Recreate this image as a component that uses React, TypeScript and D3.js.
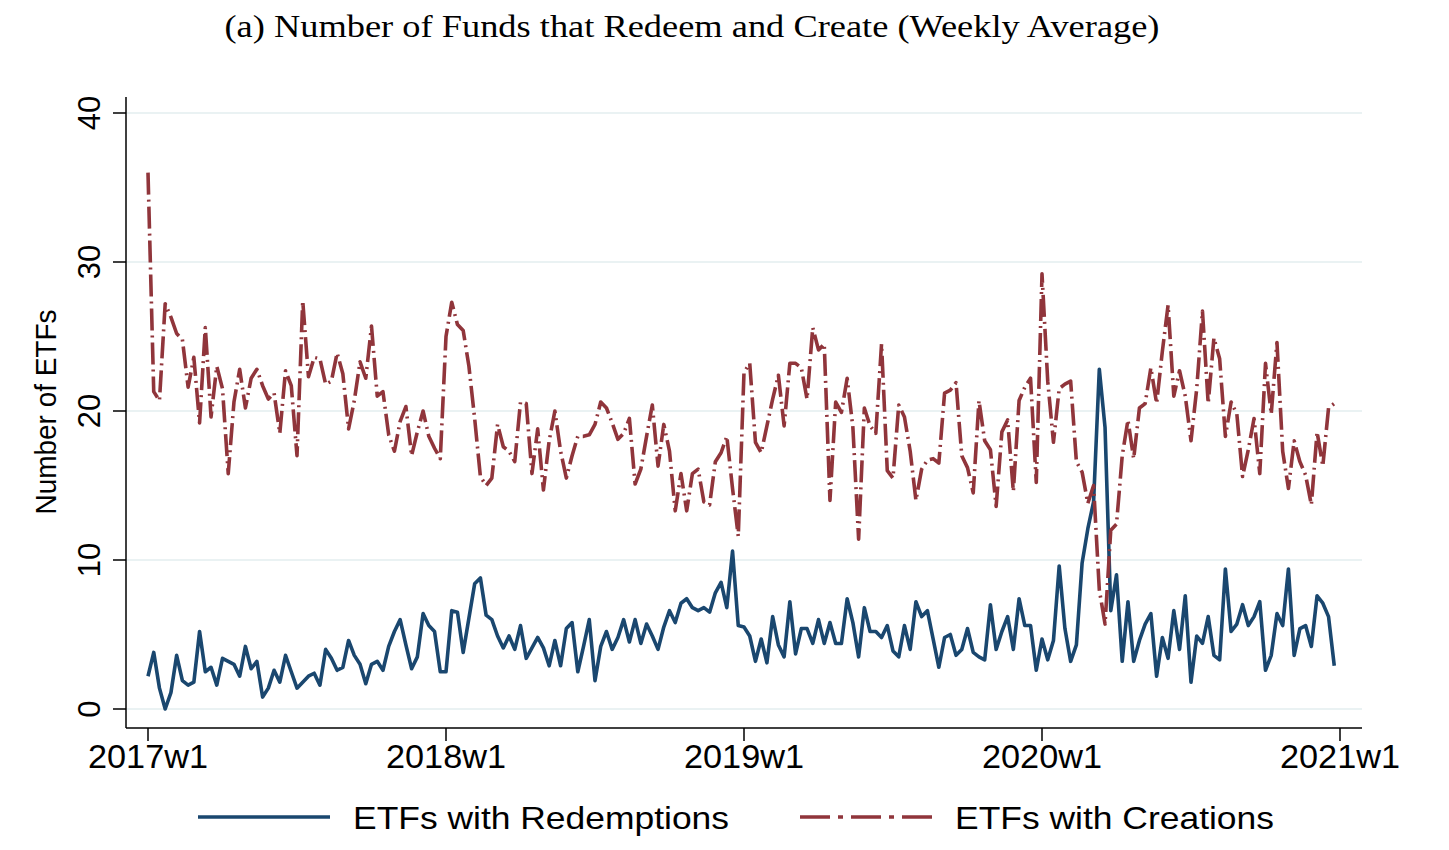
import * as d3 from "d3";

// weekly index 0 = 2017w1
const tickWeeks = [0, 52, 104, 156, 208];
const tickLabels = ["2017w1", "2018w1", "2019w1", "2020w1", "2021w1"];
const yTicks = [0, 10, 20, 30, 40];

const seriesNames = ["ETFs with Redemptions", "ETFs with Creations"];

const redemptions = [
  2.2, 3.8, 1.4, 0, 1.1, 3.6, 1.9, 1.6, 1.8, 5.2, 2.5, 2.8, 1.6, 3.4, 3.2, 3.0, 2.2, 4.2, 2.7, 3.2,
  0.8, 1.4, 2.6, 1.8, 3.6, 2.5, 1.4, 1.8, 2.2, 2.4, 1.6, 4.0, 3.4, 2.6, 2.8, 4.6, 3.6, 3.0, 1.7, 3.0,
  3.2, 2.6, 4.2, 5.2, 6.0, 4.3, 2.7, 3.5, 6.4, 5.6, 5.2, 2.5, 2.5, 6.6, 6.5, 3.8, 6.1, 8.4, 8.8, 6.3,
  6.0, 4.9, 4.1, 4.9, 4.0, 5.6, 3.4, 4.1, 4.8, 4.1, 2.9, 4.6, 2.9, 5.4, 5.8, 2.5, 4.2, 6.0, 1.9, 4.2,
  5.2, 4.0, 4.8, 6.0, 4.5, 6.0, 4.4, 5.7, 4.9, 4.0, 5.5, 6.6, 5.8, 7.1, 7.4, 6.8, 6.6, 6.8, 6.5, 7.8,
  8.5, 6.8, 10.6, 5.6, 5.5, 4.9, 3.2, 4.7, 3.1, 6.2, 4.3, 3.5, 7.2, 3.7, 5.4, 5.4, 4.4, 6.0, 4.4, 5.8,
  4.4, 4.4, 7.4, 5.8, 3.5, 6.8, 5.2, 5.2, 4.8, 5.6, 3.9, 3.5, 5.6, 4.0, 7.2, 6.2, 6.6, 4.7, 2.8, 4.8,
  5.0, 3.6, 4.0, 5.4, 3.8, 3.5, 3.3, 7.0, 4.0, 5.2, 6.2, 4.0, 7.4, 5.6, 5.6, 2.6, 4.7, 3.3, 4.6, 9.6,
  5.4, 3.2, 4.3, 9.8, 12.1, 13.9, 22.8, 18.9, 6.6, 9.0, 3.2, 7.2, 3.2, 4.6, 5.7, 6.4, 2.2, 4.8, 3.4, 6.6,
  4.0, 7.6, 1.8, 4.9, 4.4, 6.2, 3.6, 3.3, 9.4, 5.2, 5.7, 7.0, 5.6, 6.2, 7.2, 2.6, 3.6, 6.4, 5.6, 9.4,
  3.6, 5.4, 5.6, 4.2, 7.6, 7.1, 6.2, 2.9,
];

const creations = [
  36.0, 21.3, 20.7, 27.2, 26.3, 25.2, 24.8, 21.6, 23.6, 19.2, 25.6, 19.6, 23.0, 21.5, 15.8, 20.6, 22.8, 20.2, 22.2, 22.8,
  21.7, 20.8, 21.2, 18.5, 22.7, 21.7, 17.0, 27.4, 22.3, 23.6, 23.5, 21.8, 22.0, 23.9, 22.5, 18.8, 20.7, 23.3, 22.2, 25.7,
  21.0, 21.3, 18.4, 17.3, 19.3, 20.3, 17.0, 18.6, 20.0, 18.3, 17.5, 16.8, 25.0, 27.3, 25.8, 25.4, 23.0, 19.5, 15.6, 15.0,
  15.5, 19.1, 17.6, 17.3, 16.6, 20.6, 20.5, 15.8, 18.8, 14.7, 18.0, 20.0, 17.3, 15.5, 17.0, 18.3, 18.3, 18.4, 19.1, 20.6,
  20.2, 19.2, 18.1, 18.5, 19.5, 15.1, 16.1, 18.3, 20.4, 16.3, 19.1, 17.3, 13.3, 15.8, 13.3, 15.8, 16.1, 13.9, 13.7, 16.6,
  17.2, 18.3, 14.8, 11.6, 22.6, 23.2, 17.9, 17.2, 19.0, 20.8, 22.4, 19.0, 23.2, 23.2, 22.9, 20.8, 25.6, 24.1, 24.5, 14.0,
  20.6, 19.9, 22.2, 18.9, 11.4, 20.2, 19.0, 18.5, 24.5, 16.0, 15.5, 20.4, 19.6, 17.3, 14.0, 16.1, 16.7, 16.8, 16.5, 21.2,
  21.4, 21.9, 17.0, 16.2, 14.5, 20.7, 18.0, 17.4, 13.6, 18.6, 19.4, 14.6, 20.7, 21.6, 22.2, 15.2, 29.2, 22.0, 17.9, 21.5,
  21.8, 22.0, 16.6, 15.9, 13.8, 15.0, 8.0, 5.7, 12.0, 12.4, 17.0, 19.4, 16.8, 20.2, 20.5, 22.9, 20.5, 24.0, 27.1, 21.0,
  22.7, 21.0, 18.0, 21.5, 26.7, 20.5, 24.9, 23.5, 18.3, 20.6, 19.8, 15.6, 17.4, 19.5, 15.8, 23.2, 19.8, 24.6, 17.3, 14.8,
  18.0, 16.6, 15.7, 13.7, 18.6, 16.3, 20.2, 20.5,
];

const W = 1449;
const H = 850;
const frame = { left: 126, right: 1362, top: 97, bottom: 728 };

const BLUE = "#1a476f";
const RED = "#90353b";
const GRID = "#eaf2f3";
const SANS = "'Liberation Sans', Arial, Helvetica, sans-serif";
const SERIF = "'Liberation Serif', 'DejaVu Serif', serif";
const DASH = "22,5,2,5";

export default function App() {
  const x = d3.scaleLinear().domain([0, 208]).range([148, 1340]);
  const y = d3.scaleLinear().domain([0, 40]).range([709, 113]);

  const line = d3
    .line<number>()
    .x((_, i) => x(i))
    .y((d) => y(d));

  return (
    <svg
      width={W}
      height={H}
      viewBox={`0 0 ${W} ${H}`}
      style={{ position: "absolute", left: 0, top: 0, background: "#fff" }}
    >
      <rect x={0} y={0} width={W} height={H} fill="#fff" />

      {/* title */}
      <text
        x={692}
        y={37}
        textAnchor="middle"
        fontFamily={SERIF}
        fontSize={31}
        textLength={935}
        lengthAdjust="spacingAndGlyphs"
        fill="#000"
      >
        (a) Number of Funds that Redeem and Create (Weekly Average)
      </text>

      {/* grid */}
      {yTicks.map((t) => (
        <line
          key={"g" + t}
          x1={frame.left}
          x2={frame.right}
          y1={y(t)}
          y2={y(t)}
          stroke={GRID}
          strokeWidth={2}
        />
      ))}

      {/* series */}
      <path d={line(redemptions) || ""} fill="none" stroke={BLUE} strokeWidth={3.6} strokeLinejoin="round" />
      <path
        d={line(creations) || ""}
        fill="none"
        stroke={RED}
        strokeWidth={3.6}
        strokeDasharray={DASH}
        strokeLinejoin="round"
      />

      {/* axes */}
      <line x1={frame.left} x2={frame.left} y1={frame.top} y2={frame.bottom} stroke="#000" strokeWidth={1.5} />
      <line x1={frame.left} x2={frame.right} y1={frame.bottom} y2={frame.bottom} stroke="#000" strokeWidth={1.5} />

      {yTicks.map((t) => (
        <g key={"yt" + t}>
          <line x1={frame.left - 13} x2={frame.left} y1={y(t)} y2={y(t)} stroke="#000" strokeWidth={1.5} />
          <text
            transform={`translate(100,${y(t)}) rotate(-90)`}
            textAnchor="middle"
            fontFamily={SANS}
            fontSize={31}
            fill="#000"
          >
            {t}
          </text>
        </g>
      ))}

      {tickWeeks.map((w, k) => (
        <g key={"xt" + w}>
          <line x1={x(w)} x2={x(w)} y1={frame.bottom} y2={frame.bottom + 13} stroke="#000" strokeWidth={1.5} />
          <text
            x={x(w)}
            y={768}
            textAnchor="middle"
            fontFamily={SANS}
            fontSize={33}
            textLength={120}
            lengthAdjust="spacingAndGlyphs"
            fill="#000"
          >
            {tickLabels[k]}
          </text>
        </g>
      ))}

      {/* y title */}
      <text
        transform={`translate(56,412) rotate(-90)`}
        textAnchor="middle"
        fontFamily={SANS}
        fontSize={30}
        textLength={205}
        lengthAdjust="spacingAndGlyphs"
        fill="#000"
      >
        Number of ETFs
      </text>

      {/* legend */}
      <line x1={198} x2={330} y1={817} y2={817} stroke={BLUE} strokeWidth={3.6} />
      <text
        x={353}
        y={829}
        fontFamily={SANS}
        fontSize={32}
        textLength={376}
        lengthAdjust="spacingAndGlyphs"
        fill="#000"
      >
        {seriesNames[0]}
      </text>
      <line x1={800} x2={935} y1={817} y2={817} stroke={RED} strokeWidth={3.6} strokeDasharray="30,8,5,8" />
      <text
        x={955}
        y={829}
        fontFamily={SANS}
        fontSize={32}
        textLength={319}
        lengthAdjust="spacingAndGlyphs"
        fill="#000"
      >
        {seriesNames[1]}
      </text>
    </svg>
  );
}
